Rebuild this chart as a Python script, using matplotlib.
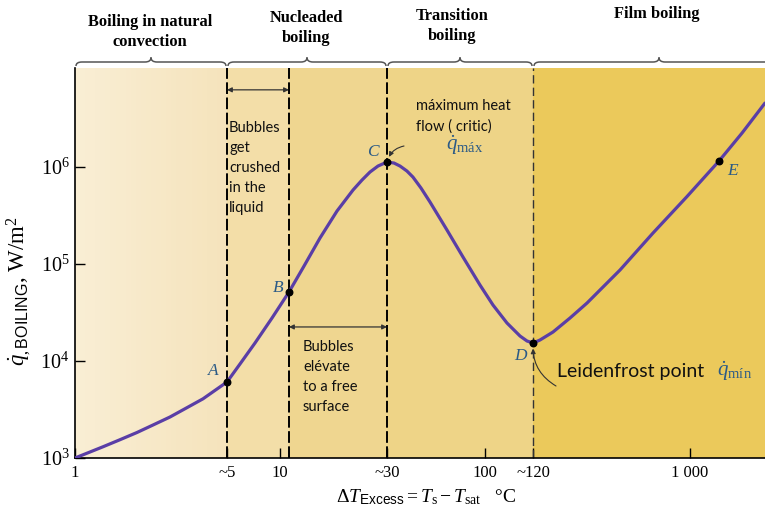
import numpy as np
import matplotlib.pyplot as plt
from matplotlib.path import Path
from matplotlib.patches import PathPatch

plt.rcParams['font.family'] = 'Liberation Serif'
plt.rcParams['mathtext.fontset'] = 'custom'
plt.rcParams['mathtext.rm'] = 'Liberation Serif'
plt.rcParams['mathtext.it'] = 'Liberation Serif:italic'
plt.rcParams['mathtext.bf'] = 'Liberation Serif:bold'
plt.rcParams['mathtext.sf'] = 'Liberation Sans'

W, H = 765, 516

# boiling curve, excess temperature (°C) against heat flux (W/m2)
dT = [1, 1.170, 1.369, 1.658, 2.006, 2.402, 2.907, 3.479, 4.211, 4.818, 5.513,
      6.380, 7.551, 9.141, 11.06, 13.10, 15.67, 18.97, 22.71, 25.12, 27.48,
      30.06, 33.26, 35.97, 38.5, 41.6, 44.5, 48.73, 53.92, 65.25, 78.1, 94.53,
      109.4, 128.0, 148.2, 160.3, 171.5, 185.4, 214.7, 259.8, 314.6, 384.9,
      455.5, 659.9, 966.9, 1385, 1794, 2322]
q = [1000, 1142, 1305, 1544, 1832, 2189, 2647, 3262, 4076, 4977, 6074,
     9314, 15330, 27750, 51440, 95370, 185400, 351900, 579400, 734600, 888300,
     1.024e6, 1.126e6, 1.1e6, 1.024e6, 9.1e5, 7.886e5, 6.075e5, 4.357e5,
     2.241e5, 1.181e5, 6.074e4, 3.777e4, 2.465e4, 1.81e4, 1.608e4, 1.533e4,
     1.646e4, 1.991e4, 2.775e4, 3.963e4, 6.074e4, 8.67e4, 2.087e5, 4.965e5,
     1.153e6, 2.241e6, 4.568e6]

# named states on the curve
point_names = ['A', 'B', 'C', 'D', 'E']
point_dT = [5.513, 11.06, 33.26, 171.5, 1385]
point_q = [6074, 51440, 1.126e6, 1.533e4, 1.153e6]
point_offsets = [(-10, 8), (-8, 3), (-10, 7), (-9, -9), (10, -7)]

# regime limits and shading
regime_edges = [1, 5.513, 11.06, 33.26, 171.5, 2322]
regime_colors = [None, '#f3dea8', '#efd690', '#eed487', '#ebc95b']
regime_titles = ['Boiling in natural\nconvection', 'Nucleaded\nboiling',
                 'Transition\nboiling', 'Film boiling']
brace_spans = [(1, 5.513), (5.513, 33.26), (33.26, 171.5), (171.5, 2322)]

xtick_vals = [1, 5.513, 10, 33.26, 100, 171.5, 1000]
xtick_labels = ['1', '~5', '10', '~30', '100', '~120', '1 000']
ytick_vals = [1e3, 1e4, 1e5, 1e6]
ytick_labels = [r'$10^3$', r'$10^4$', r'$10^5$', r'$10^6$']

fig = plt.figure(figsize=(W / 100, H / 100), dpi=100)
ax = fig.add_axes([75 / W, 58 / H, 690 / W, 390 / H])
ax.set_xscale('log')
ax.set_yscale('log')
ax.set_xlim(1, 2322)
ax.set_ylim(1e3, 1.05e7)


def fig_xy(px, py):
    return px / W, 1 - py / H


# natural convection zone darkens slightly towards the right
edges = np.logspace(0, np.log10(regime_edges[1]), 31)
c0 = np.array([249, 238, 212]) / 255
c1 = np.array([245, 227, 188]) / 255
for i in range(30):
    t = i / 29
    ax.axvspan(edges[i], edges[i + 1], color=c0 * (1 - t) + c1 * t, lw=0, zorder=0)
for i in range(1, 5):
    ax.axvspan(regime_edges[i], regime_edges[i + 1], color=regime_colors[i], lw=0, zorder=0)

# regime boundaries
for xb in regime_edges[1:4]:
    ax.axvline(xb, color='black', lw=1.4, dashes=(6, 1.8), zorder=2)
ax.axvline(regime_edges[4], color='#333333', lw=1.0, dashes=(6, 3), zorder=2)

ax.plot(dT, q, color='#5a3ea6', lw=2.3, zorder=4, solid_capstyle='round',
        solid_joinstyle='round')
ax.scatter(point_dT, point_q, s=22, color='black', zorder=5)
for name, x, y, off in zip(point_names, point_dT, point_q, point_offsets):
    ax.annotate(name, (x, y), xytext=off, textcoords='offset points',
                ha='center', va='center', fontsize=12.5, style='italic',
                color='#2b5a86', zorder=6)

# double arrows across the nucleate boiling sub-zones
xa = ax.get_xaxis_transform()
ax.annotate('', xy=(regime_edges[1], 0.944), xytext=(regime_edges[2], 0.944),
            xycoords=xa, textcoords=xa,
            arrowprops=dict(arrowstyle='<|-|>', mutation_scale=7, color='#333333',
                            lw=0.9, shrinkA=0, shrinkB=0))
ax.annotate('', xy=(regime_edges[2], 0.336), xytext=(regime_edges[3], 0.336),
            xycoords=xa, textcoords=xa,
            arrowprops=dict(arrowstyle='<|-|>', mutation_scale=7, color='#333333',
                            lw=0.9, shrinkA=0, shrinkB=0))

# pointers to the critical flux and the Leidenfrost point
ax.annotate('', xy=(point_dT[2], point_q[2]), xytext=fig_xy(404, 146),
            textcoords='figure fraction',
            arrowprops=dict(arrowstyle='-|>', mutation_scale=7, color='#333333',
                            lw=0.8, shrinkA=0, shrinkB=4,
                            connectionstyle='arc3,rad=0.3'))
ax.annotate('', xy=(point_dT[3], point_q[3]), xytext=fig_xy(556, 386),
            textcoords='figure fraction',
            arrowprops=dict(arrowstyle='-|>', mutation_scale=7, color='#333333',
                            lw=0.8, shrinkA=0, shrinkB=4,
                            connectionstyle='arc3,rad=-0.3'))

ax.set_xticks(xtick_vals)
ax.set_xticklabels(xtick_labels)
ax.set_yticks(ytick_vals)
ax.set_yticklabels(ytick_labels)
ax.minorticks_off()
ax.tick_params(direction='in', length=7, width=1, pad=4)
ax.tick_params(axis='x', labelsize=12, pad=5)
ax.tick_params(axis='y', labelsize=14.5)
for s in ['top', 'right']:
    ax.spines[s].set_visible(False)
for s in ['left', 'bottom']:
    ax.spines[s].set_linewidth(1.2)

# braces over the regimes, drawn in figure pixels
y_line, y_end, y_tip, r = H - 62, H - 66, H - 57.5, 6
for x0, x1 in brace_spans:
    p0 = ax.transData.transform((x0, 1e6))[0]
    p1 = ax.transData.transform((x1, 1e6))[0] if x1 < 2322 else W + 20
    p0 += 1
    p1 -= 1
    pm = (p0 + p1) / 2
    verts = [(p0, y_end), (p0, y_line), (p0 + r, y_line),
             (pm - r, y_line), (pm, y_line), (pm, y_tip),
             (pm, y_line), (pm + r, y_line),
             (p1 - r, y_line), (p1, y_line), (p1, y_end)]
    codes = [Path.MOVETO, Path.CURVE3, Path.CURVE3,
             Path.LINETO, Path.CURVE3, Path.CURVE3,
             Path.CURVE3, Path.CURVE3,
             Path.LINETO, Path.CURVE3, Path.CURVE3]
    verts = [(vx / W, vy / H) for vx, vy in verts]
    fig.patches.append(PathPatch(Path(verts, codes), transform=fig.transFigure,
                                 fill=False, ec='#555555', lw=1.1))

title_pos = [(150, 32), (306, 28), (452, 26), (657, 14)]
for title, (px, py) in zip(regime_titles, title_pos):
    fig.text(*fig_xy(px, py), title, ha='center', va='center', fontsize=11.8,
             fontweight='bold', linespacing=1.35)

note = dict(family='Lato', fontsize=10.5, color='#111111', va='top', linespacing=1.55)
fig.text(*fig_xy(229, 121), 'Bubbles\nget\ncrushed\nin the\nliquid', **note)
fig.text(*fig_xy(303, 340), 'Bubbles\nelévate\nto a free\nsurface', **note)
fig.text(*fig_xy(416, 99), 'máximum heat\nflow ( critic)', **note)
fig.text(*fig_xy(465, 145), r'$\dot{q}_{\mathrm{máx}}$', ha='center', va='center',
         fontsize=15, color='#2b5a86')
fig.text(*fig_xy(557, 371), 'Leidenfrost point', family='Lato', fontsize=14,
         ha='left', va='center', color='#111111')
fig.text(*fig_xy(735, 371), r'$\dot{q}_{\mathrm{mín}}$', ha='center', va='center',
         fontsize=15, color='#2b5a86')

fig.text(*fig_xy(19, 291), r'$\dot{q}_{,\mathsf{BOILING}}$, W/m$^2$', rotation=90,
         ha='center', va='center', fontsize=16.5)
fig.text(*fig_xy(426, 497), r'$\Delta T_{\mathsf{Excess}} = T_{\mathrm{s}} - T_{\mathrm{sat}}$   °C',
         ha='center', va='center', fontsize=14)

fig.savefig('out.png', dpi=100)
